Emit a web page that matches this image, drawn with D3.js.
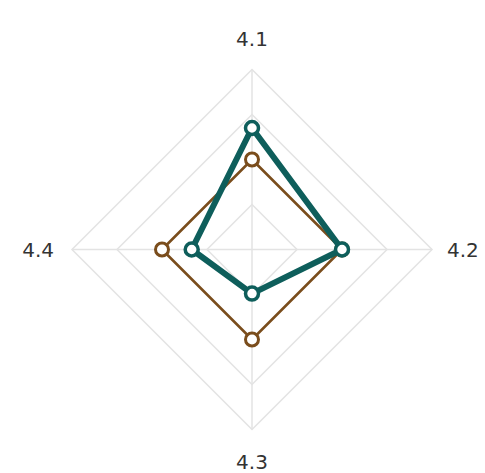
<!DOCTYPE html>
<html>
<head>
<meta charset="utf-8">
<script src="https://cdn.jsdelivr.net/npm/d3@7"></script>
<style>
  html, body { margin: 0; padding: 0; background: #fff; }
  svg { display: block; }
</style>
</head>
<body>
<div id="chart"></div>
<script>
// axes of the radar, clockwise from the top
const axes = ["4.1", "4.2", "4.3", "4.4"];
// grid levels (rings)
const levels = [1, 2, 3, 4];
// series values
const brownValues = [2, 2, 2, 2];
const tealValues = [2.7, 2, 0.98, 1.34];

const series = [
    { name: "brown", values: brownValues, color: "#7a4d1c", lineWidth: 2.5, markerStroke: 3 },
    { name: "teal", values: tealValues, color: "#0e5e5b", lineWidth: 6, markerStroke: 3.5 }
];

const width = 485, height = 473;
const cx = 252, cy = 249.5, R = 180;

const svg = d3.select("#chart").append("svg")
    .attr("width", width)
    .attr("height", height);

const r = d3.scaleLinear().domain([0, 4]).range([0, R]);
const angle = d3.scalePoint().domain(axes).range([0, 2 * Math.PI * (axes.length - 1) / axes.length]);

const g = svg.append("g").attr("transform", `translate(${cx},${cy})`);

const radial = d3.lineRadial()
    .angle((d, i) => angle(axes[i]))
    .radius(d => r(d))
    .curve(d3.curveLinearClosed);

// grid rings
g.selectAll(".ring")
    .data(levels)
    .enter()
    .append("path")
    .attr("class", "ring")
    .attr("d", lv => radial(axes.map(() => lv)))
    .attr("fill", "none")
    .attr("stroke", "#e3e3e3")
    .attr("stroke-width", 1.5);

// spokes
g.selectAll(".spoke")
    .data(axes)
    .enter()
    .append("line")
    .attr("class", "spoke")
    .attr("x1", 0).attr("y1", 0)
    .attr("x2", d => r(4) * Math.sin(angle(d)))
    .attr("y2", d => -r(4) * Math.cos(angle(d)))
    .attr("stroke", "#e3e3e3")
    .attr("stroke-width", 1.5);

// axis labels
const labelPad = { "4.1": [0, -24], "4.2": [15, 7], "4.3": [0, 39], "4.4": [-18, 7] };
g.selectAll(".label")
    .data(axes)
    .enter()
    .append("text")
    .attr("class", "label")
    .attr("x", d => r(4) * Math.sin(angle(d)) + labelPad[d][0])
    .attr("y", d => -r(4) * Math.cos(angle(d)) + labelPad[d][1])
    .attr("text-anchor", d => {
        const s = Math.sin(angle(d));
        return Math.abs(s) < 0.01 ? "middle" : (s > 0 ? "start" : "end");
    })
    .style("font-family", "'DejaVu Sans', Verdana, sans-serif")
    .style("font-size", "20px")
    .style("fill", "#333")
    .text(d => d);

// series polygons and markers
series.forEach(s => {
    g.append("path")
        .attr("d", radial(s.values))
        .attr("fill", "none")
        .attr("stroke", s.color)
        .attr("stroke-width", s.lineWidth)
        .attr("stroke-linejoin", "round");

    g.selectAll(`.pt-${s.name}`)
        .data(s.values)
        .enter()
        .append("circle")
        .attr("class", `pt-${s.name}`)
        .attr("cx", (d, i) => r(d) * Math.sin(angle(axes[i])))
        .attr("cy", (d, i) => -r(d) * Math.cos(angle(axes[i])))
        .attr("r", 6.5)
        .attr("fill", "#fff")
        .attr("stroke", s.color)
        .attr("stroke-width", s.markerStroke);
});
</script>
</body>
</html>
